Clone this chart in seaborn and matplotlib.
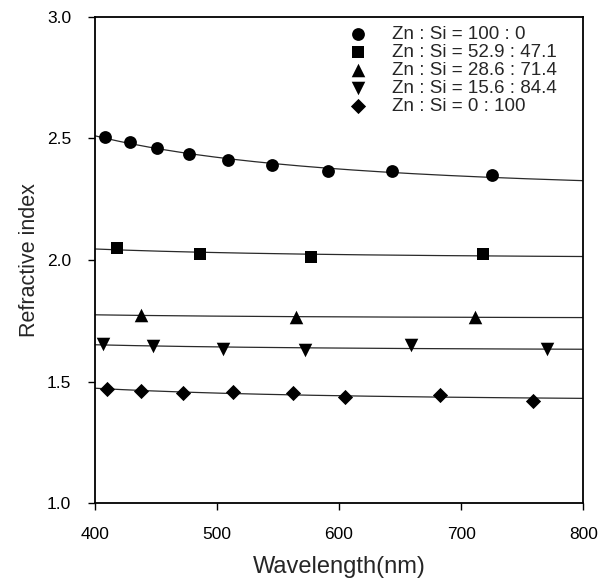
import numpy as np
import seaborn as sns
from matplotlib import pyplot as plt

# series (wavelength in nm, refractive index)
labels = ['Zn : Si = 100 : 0', 'Zn : Si = 52.9 : 47.1', 'Zn : Si = 28.6 : 71.4',
          'Zn : Si = 15.6 : 84.4', 'Zn : Si = 0 : 100']

wl_100_0 = [408, 429, 451, 477, 509, 545, 591, 643, 725]
n_100_0 = [2.504, 2.484, 2.459, 2.435, 2.413, 2.389, 2.367, 2.364, 2.351]

wl_529 = [418, 486, 577, 718]
n_529 = [2.048, 2.026, 2.014, 2.026]

wl_286 = [438, 565, 711]
n_286 = [1.773, 1.764, 1.766]

wl_156 = [407, 448, 505, 572, 659, 770]
n_156 = [1.656, 1.646, 1.635, 1.628, 1.649, 1.633]

wl_0_100 = [410, 438, 472, 513, 562, 605, 683, 759]
n_0_100 = [1.470, 1.460, 1.453, 1.456, 1.453, 1.438, 1.445, 1.421]

series = [(wl_100_0, n_100_0), (wl_529, n_529), (wl_286, n_286),
          (wl_156, n_156), (wl_0_100, n_0_100)]
markers = ['o', 's', '^', 'v', 'D']
sizes = [85, 66, 95, 95, 60]

sns.set_style('ticks')
plt.rcParams['font.family'] = ['Liberation Sans', 'DejaVu Sans']

fig = plt.figure(figsize=(6.12, 5.79), dpi=100)
ax = fig.add_axes([0.155, 0.131, 0.798, 0.840])

# Cauchy fit n = A + B / lambda^2 for each series
lam = np.linspace(400, 800, 200)
for w, n in series:
    coef = np.polyfit(1.0 / np.asarray(w, float) ** 2, n, 1)
    ax.plot(lam, np.polyval(coef, 1.0 / lam ** 2), color='#2a2a2a', lw=0.9, zorder=1)

for (w, n), lab, m, s in zip(series, labels, markers, sizes):
    sns.scatterplot(x=w, y=n, marker=m, s=s, color='black', linewidth=0,
                    label=lab, ax=ax, zorder=3)

ax.set_xlim(400, 800)
ax.set_ylim(1.0, 3.0)
ax.set_xticks([400, 500, 600, 700, 800])
ax.set_yticks([1.0, 1.5, 2.0, 2.5, 3.0])
ax.set_yticklabels(['1.0', '1.5', '2.0', '2.5', '3.0'])
ax.tick_params(labelsize=12.5, length=5, width=1, colors='black')
ax.tick_params(axis='x', pad=12)
ax.tick_params(axis='y', pad=12)
for sp in ax.spines.values():
    sp.set_linewidth(1.3)
    sp.set_color('black')
ax.set_xlabel('Wavelength(nm)', fontsize=17, labelpad=10)
ax.set_ylabel('Refractive index', fontsize=15.5, labelpad=5)

ax.legend(loc='upper left', bbox_to_anchor=(0.50, 0.982), frameon=False,
          fontsize=13.5, handlelength=2.0, handletextpad=0.85,
          labelspacing=0.05, borderaxespad=0, borderpad=0)

fig.savefig('out.png', dpi=100)
